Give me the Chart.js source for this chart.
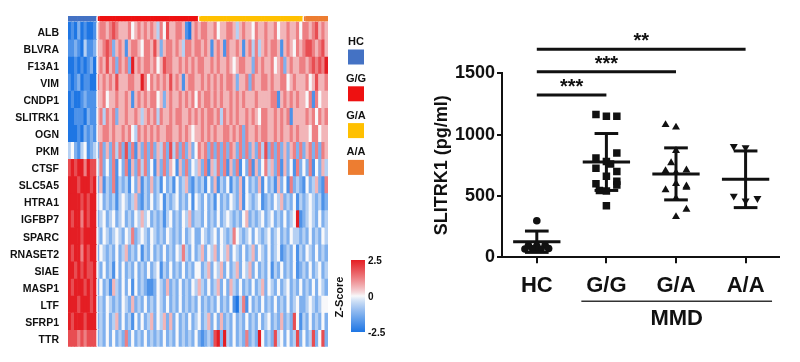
<!DOCTYPE html>
<html><head><meta charset="utf-8">
<script src="https://cdn.jsdelivr.net/npm/chart.js@4.4.1/dist/chart.umd.min.js"></script>
<style>
html,body{margin:0;padding:0;background:#fff;}
#wrap{position:relative;width:800px;height:362px;overflow:hidden;background:#fff;}
#heat{position:absolute;left:0;top:0;}
#dot{position:absolute;left:400px;top:0;}
</style></head><body>
<div id="wrap"><canvas id="heat" width="400" height="362"></canvas><canvas id="dot" width="400" height="362"></canvas></div>
<script>
// ---------------- DATA ----------------
const genes = ['ALB','BLVRA','F13A1','VIM','CNDP1','SLITRK1','OGN','PKM','CTSF','SLC5A5','HTRA1','IGFBP7','SPARC','RNASET2','SIAE','MASP1','LTF','SFRP1','TTR'];
const groups = ['HC','G/G','G/A','A/A'];
const groupSizes = [9,32,33,8];
// z-score levels per sample: digit 0..8  (0 = -2.5, 4 = 0, 8 = +2.5)
const heatLevels = [
 "010201001 56656765 55645656 56536475 56651056 56655645566 53565546556 55645565564 66567565",
 "112103112 55676256 51566546 65752566 56536656 65651565165 56515636356 56651565465 67765675",
 "001010120 56575626 56285656 65645766 55656565 66556565565 45665526565 56456256556 65676768",
 "101201100 65656575 55665586 46565657 56515665 56565656566 52556265566 56556645655 56457556",
 "010012111 55645565 56515656 56645256 55656564 65665656556 56565556555 56615656565 54616455",
 "001110211 56365625 56556535 65636556 56655656 56566563656 56556565466 55656561555 56564656",
 "000102121 55665655 65643656 56565566 55656545 56565655665 65626556566 55656556565 55466455",
 "342134123 26252636 27261526 26253627 36262524 65626262626 52626252637 26262525626 25626265",
 "787886877 36242614 26152636 24152625 41526243 52615362615 26142615246 35261524162 42614253",
 "888788878 25132613 23142513 25231423 14235213 23142513241 32514232514 23152416232 14235216",
 "888878788 34232313 43235213 24234132 34232414 32423142324 32514323412 32435232413 23432312",
 "878868788 23423423 42324353 42323134 23243523 32423242343 23245232342 34232423481 23432423",
 "888878888 32432343 24362343 24323243 23242342 24323424323 64323424323 42342324332 32423243",
 "878868788 24323242 35232413 24232423 24363242 35243524352 43242352432 42341232413 24324232",
 "887878778 32423142 42324232 42341324 23242324 42352435242 35243524232 41324232412 32423423",
 "878887878 24231532 42414232 11243252 32423243 53242352425 32423242352 43242342324 23242432",
 "888788878 23243232 43252324 23243242 32423232 42323242324 10361423242 32423242342 23432344",
 "878887888 23242352 42314242 35243525 24232423 42352425232 42324232423 42325232741 32423242",
 "777676777 23242423 26242324 23232423 24232324 21232782832 42326232842 32734242372 42372472"
];
const zPerLevel = 0.625;
const zTicks = [2.5, 0, -2.5];

const dotCats = ['HC','G/G','G/A','A/A'];
const yTicks = [0, 500, 1000, 1500];
const hcValues = [298, 95, 92, 98, 68, 70, 65, 72];
const ggValues = [1165, 1150, 1150, 850, 810, 780, 760, 725, 700, 660, 620, 600, 590, 545, 540, 420];
const gaValues = [1080, 1060, 870, 770, 710, 705, 690, 600, 580, 570, 550, 480, 390, 330];
const aaValues = [905, 895, 500, 460, 480];
const groupMeans = [127, 777, 680, 636];
const groupSDs = [87, 232, 212, 231];
const sigPairs = [[0,1],[0,2],[0,3]];
const sigLabels = ['***','***','**'];
const sigLevels = [1323, 1513, 1696];
const subgroupLabel = 'MMD';

// horizontal scatter offsets of the points within each group (layout)
const hcJitter = [0, -0.12, 0, 0.12, -0.17, -0.06, 0.06, 0.17];
const ggJitter = [-0.15, 0, 0.15, 0.15, -0.15, 0, 0.06, -0.15, 0.15, 0, 0.15, -0.15, 0.15, -0.1, 0, 0];
const gaJitter = [-0.15, 0, 0, -0.07, 0.15, -0.15, 0, 0, 0.15, 0.15, -0.15, 0, 0.15, 0];
const aaJitter = [-0.17, 0, -0.17, 0, 0.17];

// ---------------- STYLE ----------------
const FONT = '"Liberation Sans", Arial, sans-serif';
const groupColors = ['#4472C4', '#EE1111', '#FFC000', '#ED7D31'];
const INK = '#111';

function zColor(z){
  const t = Math.pow(Math.min(1, Math.abs(z)/2.5), 0.85);
  const w = [248,248,250];
  const c = z >= 0 ? [228,30,36] : [30,118,228];
  return 'rgb(' + w.map((v,k)=>Math.round(v + (c[k]-v)*t)).join(',') + ')';
}

// ---------------- HEATMAP ----------------
const colGroup = [];
groupSizes.forEach((n,g)=>{ for(let i=0;i<n;i++) colGroup.push(g); });
const nCols = colGroup.length;
const zRows = heatLevels.map(s => {
  let t = s.replace(/\s/g,'');
  while (t.length < nCols) t += '4';
  t = t.slice(0, nCols);
  return t.split('').map(ch => (Number(ch) - 4) * zPerLevel);
});
const firstOfGroup = i => i > 0 && colGroup[i] !== colGroup[i-1];

const heatDatasets = zRows.map((row, r) => ({
  data: row.map(() => [r, r + 1]),
  backgroundColor: row.map(zColor),
  borderColor: '#ffffff',
  borderWidth: ctx => (ctx.dataIndex === groupSizes[0]) ? {left:2, right:0, top:0, bottom:0} : 0,
  borderSkipped: false,
  grouped: false, barPercentage: 1, categoryPercentage: 1
}));
heatDatasets.push({
  data: colGroup.map(() => [-0.34, -0.06]),
  backgroundColor: colGroup.map(g => groupColors[g]),
  borderColor: '#ffffff',
  borderWidth: ctx => firstOfGroup(ctx.dataIndex) ? {left:2, right:0, top:0, bottom:0} : 0,
  borderSkipped: false,
  grouped: false, barPercentage: 1, categoryPercentage: 1
});

const heatDecor = {
  id: 'heatDecor',
  afterDraw(chart){
    const ctx = chart.ctx;
    ctx.save();
    // group legend
    ctx.font = 'bold 11px ' + FONT;
    ctx.textAlign = 'center'; ctx.textBaseline = 'middle';
    groups.forEach((g,i) => {
      const ty = 42 + i * 36.8;
      ctx.fillStyle = INK;
      ctx.fillText(g, 356, ty);
      ctx.fillStyle = groupColors[i];
      ctx.fillRect(348, ty + 7.5, 16, 15);
    });
    // colour bar
    const top = 260, bot = 332, left = 351, w = 14;
    const grad = ctx.createLinearGradient(0, top, 0, bot);
    for (let k = 0; k <= 20; k++) {
      const z = 2.5 - 5 * k / 20;
      grad.addColorStop(k / 20, zColor(z));
    }
    ctx.fillStyle = grad;
    ctx.fillRect(left, top, w, bot - top);
    ctx.fillStyle = INK;
    ctx.font = 'bold 10px ' + FONT;
    ctx.textAlign = 'left'; ctx.textBaseline = 'middle';
    zTicks.forEach(z => {
      const yy = top + (2.5 - z) / 5 * (bot - top);
      ctx.fillText(String(z), 368, yy + 1);
    });
    ctx.font = 'bold 11px ' + FONT;
    ctx.translate(340, 297);
    ctx.rotate(-Math.PI / 2);
    ctx.textAlign = 'center';
    ctx.fillText('Z-Score', 0, 0);
    ctx.restore();
  }
};

new Chart(document.getElementById('heat'), {
  type: 'bar',
  data: { labels: colGroup.map((g,i) => groups[g] + ' ' + (i+1)), datasets: heatDatasets },
  options: {
    responsive: false, animation: false,
    layout: { padding: { left: 0, right: 72, top: 14, bottom: 7 } },
    plugins: { legend: { display: false }, tooltip: { enabled: false } },
    scales: {
      x: { type: 'category', display: false, offset: true },
      y: {
        type: 'linear', reverse: true, min: -0.4, max: 19,
        afterBuildTicks: s => { s.ticks = genes.map((g,i) => ({ value: i + 0.5 })); },
        afterFit: s => { s.width = 68; },
        grid: { display: false, drawTicks: false },
        border: { display: false },
        ticks: { autoSkip: false, callback: (v,i) => genes[i], padding: 9, labelOffset: 2,
                 color: INK, font: { family: FONT, size: 10.5, weight: 'bold' } }
      }
    }
  },
  plugins: [heatDecor]
});

// ---------------- DOT PLOT ----------------
function pts(ci, vals, jit){ return vals.map((v,i) => ({ x: ci + jit[i], y: v })); }

const dotDecor = {
  id: 'dotDecor',
  afterDatasetsDraw(chart){
    const { ctx, scales: { x, y } } = chart;
    ctx.save();
    ctx.strokeStyle = INK; ctx.lineWidth = 3; ctx.lineCap = 'butt';
    const seg = (x1,y1,x2,y2) => {
      ctx.beginPath();
      ctx.moveTo(x.getPixelForValue(x1), y.getPixelForValue(y1));
      ctx.lineTo(x.getPixelForValue(x2), y.getPixelForValue(y2));
      ctx.stroke();
    };
    groupMeans.forEach((m,i) => {
      const sd = groupSDs[i];
      seg(i - 0.34, m, i + 0.34, m);
      seg(i, m - sd, i, m + sd);
      seg(i - 0.17, m + sd, i + 0.17, m + sd);
      seg(i - 0.17, m - sd, i + 0.17, m - sd);
    });
    ctx.restore();
  },
  afterDraw(chart){
    const { ctx, scales: { x, y }, chartArea } = chart;
    ctx.save();
    ctx.strokeStyle = INK; ctx.fillStyle = INK; ctx.lineWidth = 3;
    ctx.font = 'bold 20px ' + FONT;
    ctx.textAlign = 'center'; ctx.textBaseline = 'alphabetic';
    sigPairs.forEach((p,k) => {
      const yy = y.getPixelForValue(sigLevels[k]);
      const x1 = x.getPixelForValue(p[0]), x2 = x.getPixelForValue(p[1]);
      ctx.beginPath(); ctx.moveTo(x1, yy); ctx.lineTo(x2, yy); ctx.stroke();
      ctx.fillText(sigLabels[k], (x1 + x2) / 2, yy - 2);
    });
    // MMD bracket
    const ly = chartArea.bottom + 44;
    ctx.strokeStyle = '#333'; ctx.lineWidth = 1.6;
    const a = x.getPixelForValue(0.64), b = x.getPixelForValue(3.38);
    ctx.beginPath(); ctx.moveTo(a, ly); ctx.lineTo(b, ly); ctx.stroke();
    ctx.font = 'bold 22px ' + FONT;
    ctx.textBaseline = 'middle';
    ctx.fillText(subgroupLabel, (a + b) / 2, ly + 18);
    ctx.restore();
  }
};

const ptStyle = { backgroundColor: INK, borderColor: INK, borderWidth: 0, showLine: false };
new Chart(document.getElementById('dot'), {
  type: 'scatter',
  data: { datasets: [
    Object.assign({ label: 'HC',  data: pts(0, hcValues, hcJitter), pointStyle: 'circle',   pointRadius: 3.8 }, ptStyle),
    Object.assign({ label: 'G/G', data: pts(1, ggValues, ggJitter), pointStyle: 'rect',     pointRadius: 5.3 }, ptStyle),
    Object.assign({ label: 'G/A', data: pts(2, gaValues, gaJitter), pointStyle: 'triangle', pointRadius: 4.6 }, ptStyle),
    Object.assign({ label: 'A/A', data: pts(3, aaValues, aaJitter), pointStyle: 'triangle', pointRadius: 4.6, pointRotation: 180 }, ptStyle)
  ]},
  options: {
    responsive: false, animation: false,
    layout: { padding: { left: 0, right: 21, top: 73.3, bottom: 0 } },
    plugins: { legend: { display: false }, tooltip: { enabled: false } },
    scales: {
      x: {
        type: 'linear', min: -0.5, max: 3.48,
        afterBuildTicks: s => { s.ticks = dotCats.map((c,i) => ({ value: i })); },
        afterFit: s => { s.height = 104.7; },
        grid: { drawOnChartArea: false, drawTicks: true, tickLength: 6, color: INK, lineWidth: 2 },
        border: { display: true, color: INK, width: 2 },
        ticks: { autoSkip: false, maxRotation: 0, callback: (v,i) => dotCats[i], padding: 9,
                 color: INK, font: { family: FONT, size: 22, weight: 'bold' } }
      },
      y: {
        type: 'linear', min: 0, max: 1500,
        afterBuildTicks: s => { s.ticks = yTicks.map(v => ({ value: v })); },
        afterFit: s => { s.width = 102; },
        grid: { drawOnChartArea: false, drawTicks: true, tickLength: 5, color: INK, lineWidth: 2 },
        border: { display: true, color: INK, width: 2 },
        ticks: { padding: 2, color: INK, callback: v => String(v),
                 font: { family: FONT, size: 18, weight: 'bold' } },
        title: { display: true, text: 'SLITRK1 (pg/ml)', color: INK, padding: { top: 31, bottom: 0 },
                 font: { family: FONT, size: 18, weight: 'bold' } }
      }
    }
  },
  plugins: [dotDecor]
});
</script>
</body></html>
